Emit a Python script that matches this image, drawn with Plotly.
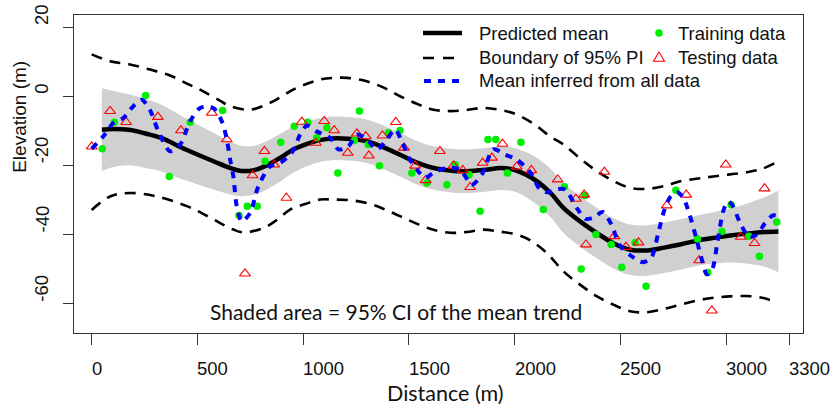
import plotly.graph_objects as go

# ---------------- data ----------------
mean_x = [48, 104, 184, 254, 325, 445, 576, 657, 707, 767, 828, 878, 958, 1009, 1079, 1139, 1210, 1300,
          1381, 1461, 1542, 1612, 1713, 1773, 1863, 1934, 1994, 2055, 2115, 2175, 2231, 2316, 2390, 2467,
          2547, 2628, 2708, 2783, 2869, 2950, 3020, 3121, 3181, 3248]
mean_y = [-9.7, -9.5, -9.8, -10.8, -12.0, -15.4, -18.8, -20.8, -21.6, -21.4, -20.0, -18.3, -15.3, -14.0,
          -12.7, -12.2, -12.3, -13.0, -14.8, -17.0, -19.3, -20.7, -21.6, -21.7, -21.3, -20.8, -21.2, -22.7,
          -25.0, -28.3, -32.3, -36.5, -39.6, -42.5, -44.4, -44.6, -43.8, -42.9, -41.7, -40.9, -40.3, -39.6,
          -39.3, -39.1]
ci_upper = [2.3, 1.5, 0.4, -0.8, -2.3, -6.4, -10.6, -13.2, -14.3, -14.3, -13.0, -11.4, -8.6, -7.5, -6.4,
            -5.9, -6.0, -6.7, -8.5, -10.7, -13.0, -14.4, -15.3, -15.4, -15.0, -14.5, -14.9, -16.2, -18.2,
            -21.3, -25.1, -29.2, -32.3, -35.2, -37.1, -37.3, -36.5, -35.6, -34.4, -33.4, -32.5, -30.6,
            -29.3, -27.3]
ci_lower = [-21.7, -20.5, -20.0, -20.8, -21.7, -24.4, -27.0, -28.4, -28.9, -28.5, -27.0, -25.2, -22.0,
            -20.5, -19.0, -18.5, -18.6, -19.3, -21.1, -23.3, -25.6, -27.0, -27.9, -28.0, -27.6, -27.1,
            -27.5, -29.2, -31.8, -35.3, -39.5, -43.8, -46.9, -49.8, -51.7, -51.9, -51.1, -50.2, -49.0,
            -48.4, -48.1, -48.6, -49.3, -50.9]

pi_up_x = [0, 87, 181, 276, 370, 456, 528, 606, 655, 749, 844, 908, 969, 1080, 1142, 1210, 1301, 1381,
           1458, 1542, 1616, 1695, 1773, 1852, 1934, 2010, 2095, 2168, 2232, 2316, 2390, 2467, 2546, 2626,
           2708, 2783, 2869, 2941, 3020, 3098, 3171, 3232]
pi_up_y = [12.1, 10.1, 9.2, 7.7, 6.0, 3.5, 1.4, -1.3, -2.9, -3.9, -1.9, 0.3, 2.4, 4.8, 5.3, 5.3, 4.3, 2.5,
           0.0, -2.3, -3.9, -4.3, -4.0, -3.4, -4.0, -5.3, -8.2, -11.6, -14.0, -18.3, -21.7, -24.5, -26.5,
           -26.8, -26.0, -24.6, -23.8, -23.2, -22.6, -22.0, -21.0, -19.3]
pi_lo_x = [0, 87, 181, 308, 450, 536, 607, 667, 717, 813, 878, 938, 1009, 1080, 1142, 1210, 1301, 1381,
           1458, 1542, 1616, 1695, 1773, 1852, 1934, 2010, 2075, 2152, 2232, 2316, 2390, 2467, 2546, 2626,
           2708, 2783, 2869, 2941, 3020, 3098, 3171, 3240]
pi_lo_y = [-32.9, -29.0, -28.0, -29.0, -31.8, -34.3, -36.7, -38.5, -39.4, -38.1, -35.7, -32.8, -31.2,
           -29.9, -29.9, -30.0, -30.9, -32.6, -34.7, -37.0, -38.6, -39.5, -39.3, -38.6, -39.2, -40.0, -41.7,
           -45.3, -50.7, -54.8, -57.9, -60.3, -62.2, -62.5, -61.5, -60.3, -59.0, -58.3, -57.9, -57.8, -58.3,
           -59.6]

all_x = [0, 55, 103, 150, 189, 236, 275, 315, 370, 418, 466, 513, 575, 615, 639, 655, 670, 686, 710, 749,
         788, 844, 891, 946, 986, 1017, 1061, 1127, 1167, 1214, 1254, 1301, 1349, 1396, 1435, 1466, 1505,
         1538, 1577, 1616, 1679, 1742, 1798, 1845, 1900, 1955, 2010, 2074, 2121, 2160, 2191, 2239, 2294,
         2336, 2376, 2417, 2457, 2497, 2547, 2608, 2648, 2678, 2708, 2738, 2769, 2799, 2829, 2859, 2889,
         2909, 2935, 2960, 2988, 3010, 3030, 3067, 3111, 3146, 3185, 3221, 3246]
all_y = [-15.2, -11.6, -7.7, -6.3, -3.4, -1.0, -3.9, -10.1, -15.9, -14.0, -7.2, -3.4, -3.4, -7.2, -12.5,
         -18.4, -23.2, -31.8, -36.2, -33.8, -26.1, -20.3, -19.3, -16.4, -11.1, -8.5, -10.1, -12.0, -15.4,
         -14.5, -11.1, -12.5, -15.4, -12.5, -9.6, -13.0, -18.3, -21.2, -23.6, -22.2, -20.7, -21.2, -25.6,
         -22.7, -15.4, -16.9, -18.3, -22.0, -27.0, -27.8, -27.0, -27.0, -32.3, -35.5, -35.0, -33.5, -37.0,
         -43.0, -46.0, -48.0, -46.5, -40.0, -33.0, -29.0, -27.8, -29.5, -34.5, -41.0, -48.0, -51.5, -50.0,
         -42.0, -33.0, -30.5, -31.5, -36.7, -40.8, -40.0, -36.7, -34.5, -34.7]

train_x = [50, 107, 255, 367, 466, 619, 697, 736, 783, 820, 894, 958, 1022, 1064, 1112, 1164, 1242, 1266,
           1308, 1361, 1403, 1458, 1514, 1585, 1680, 1719, 1785, 1837, 1874, 1911, 1966, 2030, 2136, 2236,
           2315, 2333, 2385, 2457, 2507, 2570, 2622, 2763, 2865, 2914, 2981, 3024, 3107, 3158, 3240]
train_y = [-15.2, -7.5, 0.2, -23.2, -7.5, -4.1, -34.5, -31.8, -31.8, -18.8, -13.3, -8.7, -7.5, -12.0, -9.1,
           -22.2, -12.8, -4.3, -14.0, -20.1, -10.6, -9.9, -22.2, -25.1, -25.6, -19.8, -22.7, -33.3, -12.5,
           -12.5, -22.2, -13.3, -32.8, -26.2, -50.0, -28.7, -40.0, -42.9, -49.5, -42.3, -55.0, -27.2, -41.3,
           -51.0, -39.1, -31.4, -40.5, -46.3, -36.4]

test_x = [0, 87, 163, 313, 422, 568, 639, 725, 761, 817, 863, 921, 994, 1060, 1100, 1147, 1211, 1254, 1296,
          1311, 1375, 1438, 1477, 1530, 1580, 1647, 1711, 1755, 1790, 1849, 1893, 1943, 2010, 2079, 2204,
          2290, 2329, 2338, 2425, 2472, 2527, 2586, 2720, 2812, 2873, 2933, 2999, 3070, 3135, 3182]
test_y = [-14.6, -4.3, -7.5, -6.0, -9.9, -4.8, -12.5, -51.3, -22.9, -15.9, -19.8, -29.4, -7.4, -13.5, -7.2,
          -9.9, -16.4, -10.8, -11.6, -17.2, -11.4, -7.5, -14.9, -20.1, -24.3, -15.9, -20.1, -21.4, -26.3,
          -19.3, -17.8, -13.8, -20.4, -21.4, -24.1, -29.7, -28.5, -42.9, -21.9, -40.5, -43.6, -42.3, -31.6,
          -28.5, -47.5, -62.0, -19.8, -40.7, -42.5, -26.7]

x_ticks = [0, 500, 1000, 1500, 2000, 2500, 3000, 3300]
y_ticks = [-60, -40, -20, 0, 20]

legend_lines = ["Predicted mean", "Boundary of 95% PI", "Mean inferred from all data"]
legend_marks = ["Training data", "Testing data"]

# ---------------- figure ----------------
ARIAL = "Liberation Sans, Arial, sans-serif"
CALIBRI = "Lato, Carlito, Calibri, sans-serif"

fig = go.Figure()

fig.add_trace(go.Scatter(x=mean_x, y=ci_lower, mode="lines", line=dict(width=0, shape="spline"),
                         hoverinfo="skip", showlegend=False))
fig.add_trace(go.Scatter(x=mean_x, y=ci_upper, mode="lines", line=dict(width=0, shape="spline"),
                         fill="tonexty", fillcolor="#d0d0d0", hoverinfo="skip", showlegend=False))

fig.add_trace(go.Scatter(x=pi_up_x, y=pi_up_y, mode="lines",
                         line=dict(color="black", width=2.6, dash="11px,8px", shape="spline"),
                         showlegend=False))
fig.add_trace(go.Scatter(x=pi_lo_x, y=pi_lo_y, mode="lines",
                         line=dict(color="black", width=2.6, dash="11px,8px", shape="spline"),
                         showlegend=False))
fig.add_trace(go.Scatter(x=mean_x, y=mean_y, mode="lines",
                         line=dict(color="black", width=4.5, shape="spline"), showlegend=False))
fig.add_trace(go.Scatter(x=train_x, y=train_y, mode="markers",
                         marker=dict(color="#00ee00", size=7.5, line=dict(width=0)), showlegend=False))
fig.add_trace(go.Scatter(x=test_x, y=test_y, mode="markers",
                         marker=dict(symbol="triangle-up-open", color="#ff0000", size=9.5,
                                     line=dict(width=1.1, color="#ff0000")), showlegend=False))
fig.add_trace(go.Scatter(x=all_x, y=all_y, mode="lines",
                         line=dict(color="#0000ff", width=4, dash="7px,7px", shape="spline", smoothing=0.8),
                         showlegend=False))

W, H = 835, 412
L, R, T, B = 74, 32, 15, 79
PW, PH = W - L - R, H - T - B


def px(x):
    return (x - L) / PW


def py(y):
    return (H - B - y) / PH


annotations = []
# x tick labels (left-aligned at tick)
for v in x_ticks:
    annotations.append(dict(x=v, xref="x", y=py(368), yref="paper", text=str(v), showarrow=False,
                            xanchor="left", yanchor="middle", xshift=-2,
                            font=dict(family=ARIAL, size=18.5, color="#111")))
# y tick labels (rotated, starting at tick)
for v in y_ticks:
    annotations.append(dict(x=px(41.5), xref="paper", y=v, yref="y", text=str(v), showarrow=False,
                            textangle=-90, xanchor="center", yanchor="bottom",
                            font=dict(family=ARIAL, size=18.5, color="#111")))
# axis titles
annotations.append(dict(x=px(19.3), xref="paper", y=py(116.5), yref="paper", text="Elevation (m)",
                        showarrow=False, textangle=-90, xanchor="center", yanchor="middle",
                        font=dict(family=ARIAL, size=19, color="#111")))
annotations.append(dict(x=px(445), xref="paper", y=py(393), yref="paper", text="Distance (m)",
                        showarrow=False, xanchor="center", yanchor="middle",
                        font=dict(family=CALIBRI, size=21.5, color="#111")))
annotations.append(dict(x=px(395.5), xref="paper", y=py(311), yref="paper",
                        text="Shaded area = 95% CI of the mean trend",
                        showarrow=False, xanchor="center", yanchor="middle",
                        font=dict(family=CALIBRI, size=21, color="#111")))

# legend (drawn manually)
rows_y = [33, 58, 81]
for txt, yy in zip(legend_lines, rows_y):
    annotations.append(dict(x=px(477), xref="paper", y=py(yy), yref="paper", text=txt, showarrow=False,
                            xanchor="left", yanchor="middle",
                            font=dict(family=ARIAL, size=18.5, color="#111")))
for txt, yy in zip(legend_marks, rows_y[:2]):
    annotations.append(dict(x=px(676), xref="paper", y=py(yy), yref="paper", text=txt, showarrow=False,
                            xanchor="left", yanchor="middle",
                            font=dict(family=ARIAL, size=18.5, color="#111")))

shapes = [
    dict(type="line", xref="paper", yref="paper", x0=px(423), x1=px(462), y0=py(33), y1=py(33),
         line=dict(color="black", width=4.5)),
    dict(type="line", xref="paper", yref="paper", x0=px(423), x1=px(455), y0=py(58), y1=py(58),
         line=dict(color="black", width=2.6, dash="11px,9px")),
    dict(type="line", xref="paper", yref="paper", x0=px(424), x1=px(460), y0=py(81), y1=py(81),
         line=dict(color="#0000ff", width=4, dash="7px,7px")),
    dict(type="circle", xref="paper", yref="paper", xsizemode="pixel", ysizemode="pixel",
         xanchor=px(659), yanchor=py(33), x0=-3.75, x1=3.75, y0=-3.75, y1=3.75,
         fillcolor="#00ee00", line=dict(width=0)),
    dict(type="path", xref="paper", yref="paper", xsizemode="pixel", ysizemode="pixel",
         xanchor=px(659), yanchor=py(58), path="M-5.5,-3.3 L5.5,-3.3 L0,6 Z",
         line=dict(color="#ff0000", width=1.1)),
]

fig.update_layout(
    width=W, height=H, margin=dict(l=L, r=R, t=T, b=B),
    paper_bgcolor="white", plot_bgcolor="white",
    showlegend=False, annotations=annotations, shapes=shapes,
    xaxis=dict(range=[-83.7, 3364.2], tickvals=x_ticks, showticklabels=False, ticks="outside",
               ticklen=11, tickwidth=1.2, tickcolor="#333", showline=True, mirror=True,
               linecolor="#333", linewidth=1.3, showgrid=False, zeroline=False),
    yaxis=dict(range=[-68.49, 23.49], tickvals=y_ticks, showticklabels=False, ticks="outside",
               ticklen=10, tickwidth=1.2, tickcolor="#333", showline=True, mirror=True,
               linecolor="#333", linewidth=1.3, showgrid=False, zeroline=False),
)

fig.write_html("out.html")
